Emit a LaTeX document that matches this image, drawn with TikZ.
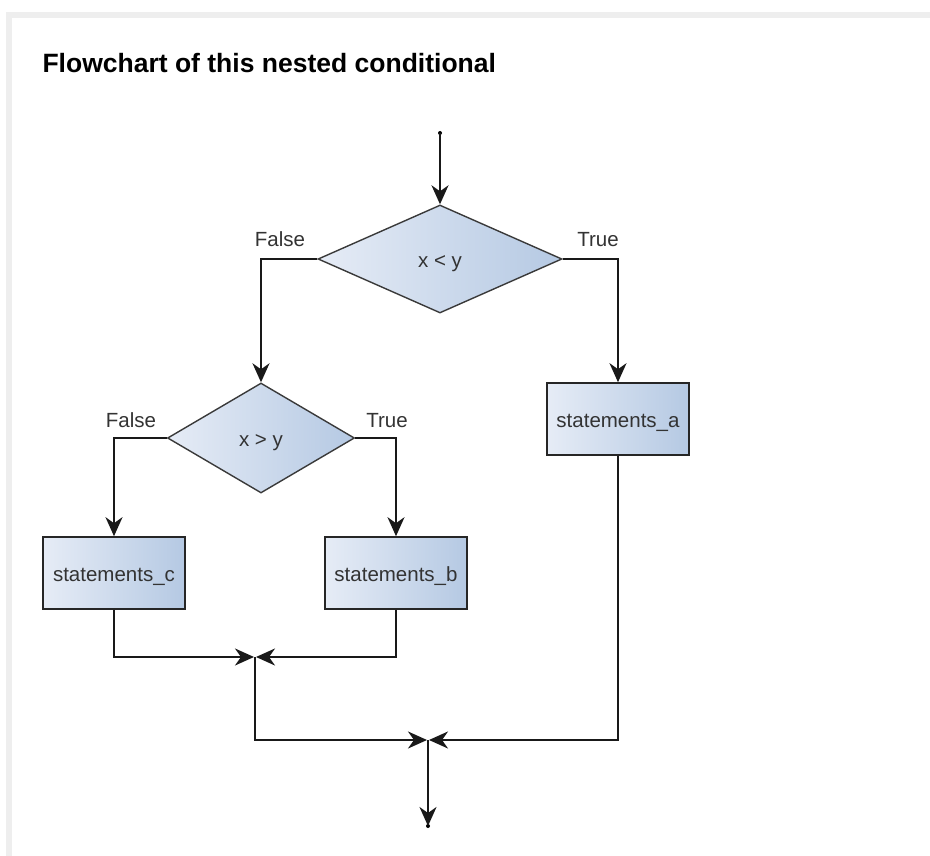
\documentclass[tikz,border=0pt]{standalone}
\usepackage{fontspec}
\setmainfont{Liberation Sans}
\usetikzlibrary{shapes.geometric,arrows.meta}
\definecolor{pagegray}{HTML}{EEEEEE}
\definecolor{boxlight}{HTML}{E6ECF6}
\definecolor{boxdark}{HTML}{B5C9E3}
\definecolor{edgegray}{HTML}{3A3A3A}
\begin{document}
\begin{tikzpicture}[x=1pt, y=-1pt,
    every node/.style={font=\fontsize{20.5}{24}\selectfont, text=black!80},
    decision/.style={diamond, draw=edgegray, line width=1.4pt, inner sep=0pt,
      left color=boxlight, right color=boxdark,
      text height=16pt, text depth=0pt,
      minimum width=#1, minimum height=108pt},
    stmt/.style={rectangle, draw=black!85, line width=1.6pt,
      left color=boxlight, right color=boxdark,
      text height=16pt, text depth=0pt,
      minimum width=142pt, minimum height=72pt},
    flow/.style={draw=black!90, line width=1.9pt,
      -{Stealth[length=19pt, width=17pt, inset=6pt]}}]
    \useasboundingbox (0,0) rectangle (930,856);
    \fill [pagegray] (6,12) rectangle (930,856);
    \fill [white] (12,18) rectangle (930,856);

    \node [anchor=base west, font=\fontsize{26.5}{30}\selectfont\bfseries, text=black]
      (title) at (39,73) {Flowchart of this nested conditional};

    % \draw [help lines, step=10pt] (0,0) grid (930,856);
    \fill (440,133) coordinate (start) circle (2pt);
    \fill (428,826) coordinate (stop) circle (2pt);
    \coordinate (m1) at (255,657);
    \coordinate (m2) at (428,740);

    \node [decision=244pt] (d1) at (440,259) {x < y};
    \node [decision=187pt, minimum height=110pt] (d2) at (261,438) {x > y};
    \node [stmt] (a) at (618,419) {statements\_a};
    \node [stmt] (b) at (396,573) {statements\_b};
    \node [stmt] (c) at (114,573) {statements\_c};

    \node [anchor=base] (f1) at (280,247) {False};
    \node [anchor=base] (t1) at (598,247) {True};
    \node [anchor=base] (f2) at (131,427) {False};
    \node [anchor=base] (t2) at (387,427) {True};

    \draw [flow] (start) -- (d1.north);
    \draw [flow] (d1.west) -| (d2.north);
    \draw [flow] (d1.east) -| (a.north);
    \draw [flow] (d2.west) -| (c.north);
    \draw [flow] (d2.east) -| (b.north);
    \draw [flow, shorten >=1pt] (c.south) |- (m1);
    \draw [flow, shorten >=1pt] (b.south) |- (m1);
    \draw [flow, shorten >=1pt] (m1) |- (m2);
    \draw [flow, shorten >=1pt] (a.south) |- (m2);
    \draw [flow] (m2) -- (stop);
  \end{tikzpicture}
\end{document}
